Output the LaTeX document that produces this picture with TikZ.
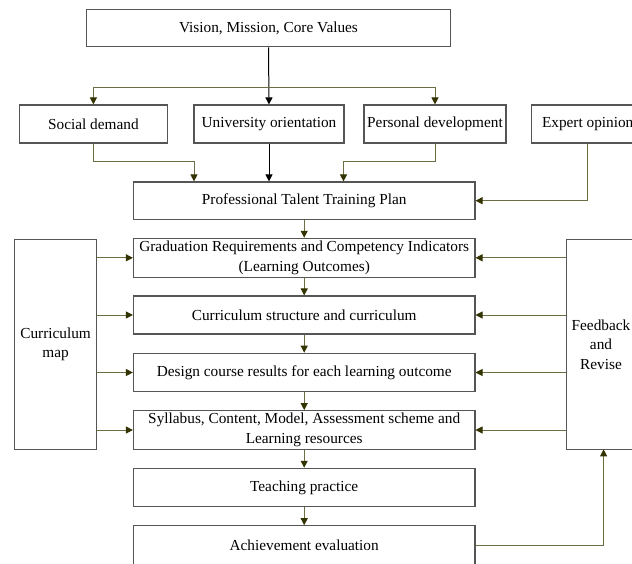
\documentclass[tikz,border=0pt]{standalone}
\usepackage{fontspec}
\setmainfont{Liberation Serif}
\usetikzlibrary{arrows.meta,calc}
\definecolor{boxline}{HTML}{555555}
\definecolor{oline}{HTML}{6E6E45}
\definecolor{ohead}{HTML}{333300}
\tikzset{
  box/.style={draw=boxline, line width=1.1pt, inner sep=0pt, align=center,
    font=\fontsize{15.3}{19.5}\selectfont, anchor=center},
  oarrow/.style={draw=oline, line width=1pt, -{Triangle[length=7pt,width=7pt,color=ohead]}},
  karrow/.style={draw=black, line width=1pt, -{Triangle[length=7pt,width=7pt,color=black]}},
  oplain/.style={draw=oline, line width=1pt},
}
\begin{document}
\begin{tikzpicture}[x=1pt,y=-1pt]
\useasboundingbox (0,0) rectangle (632,563);
% top
\node[box, minimum width=364pt, minimum height=37.5pt] (vision) at (268.5,28) {Vision, Mission, Core Values};
% row
\node[box, minimum width=148pt, minimum height=38pt] (social) at (93.4,124) {Social demand};
\node[box, minimum width=150pt, minimum height=38pt] (univ) at (269,124) {University orientation};
\node[box, minimum width=142pt, minimum height=38pt] (personal) at (435,124) {Personal development};
\node[box, minimum width=113pt, minimum height=38pt] (expert) at (587.7,124) {Expert opinion};
% main column
\node[box, minimum width=341.5pt, minimum height=37.5pt] (plan) at (304.2,200.7) {Professional Talent Training Plan};
\node[box, minimum width=341.5pt, minimum height=39pt] (grad) at (304.2,257.8) {Graduation Requirements and Competency Indicators\\(Learning Outcomes)};
\node[box, minimum width=341.5pt, minimum height=38pt] (curr) at (304.2,315) {Curriculum structure and curriculum};
\node[box, minimum width=341.5pt, minimum height=38.5pt] (design) at (304.2,372.5) {Design course results for each learning outcome};
\node[box, minimum width=341.5pt, minimum height=38.7pt] (syll) at (304.2,430) {Syllabus, Content, Model, Assessment scheme and\\Learning resources};
\node[box, minimum width=341.5pt, minimum height=38.4pt] (teach) at (304.2,487.5) {Teaching practice};
\node[box, minimum width=341.5pt, minimum height=38.7pt] (achieve) at (304.2,545.1) {Achievement evaluation};
% side boxes
\node[box, minimum width=82.3pt, minimum height=210pt] (map) at (55.6,344.3) {Curriculum\\map};
\node[box, minimum width=69pt, minimum height=210pt] (feedback) at (601,344.3) {Feedback\\and\\Revise};
% coordinates
\coordinate (split) at (268.5,87);
\coordinate (sj) at (194,161);
\coordinate (pj) at (343.5,161);
\coordinate (fbin) at (603.6,449.3);
% connectors top
\draw[karrow] (vision.south) -- (univ.north);
\draw[oarrow] (split) -| (social.north);
\draw[oarrow] (split) -| (personal.north);
\draw[oarrow] (social.south) |- (sj) -- (sj |- plan.north);
\draw[karrow] (univ.south) -- (plan.north -| univ.south);
\draw[oarrow] (personal.south) |- (pj) -- (pj |- plan.north);
\draw[oarrow] (expert.south) |- (plan.east);
% main column arrows
\draw[oarrow] (plan.south) -- (grad.north);
\draw[oarrow] (grad.south) -- (curr.north);
\draw[oarrow] (curr.south) -- (design.north);
\draw[oarrow] (design.south) -- (syll.north);
\draw[oarrow] (syll.south) -- (teach.north);
\draw[oarrow] (teach.south) -- (achieve.north);
% curriculum map arrows
\foreach \n in {grad,curr,design,syll}{
  \draw[oarrow] (map.east |- \n.west) -- (\n.west);
  \draw[oarrow] (feedback.west |- \n.east) -- (\n.east);
}
\draw[oarrow] (achieve.east) -| (fbin);
\end{tikzpicture}
\end{document}
